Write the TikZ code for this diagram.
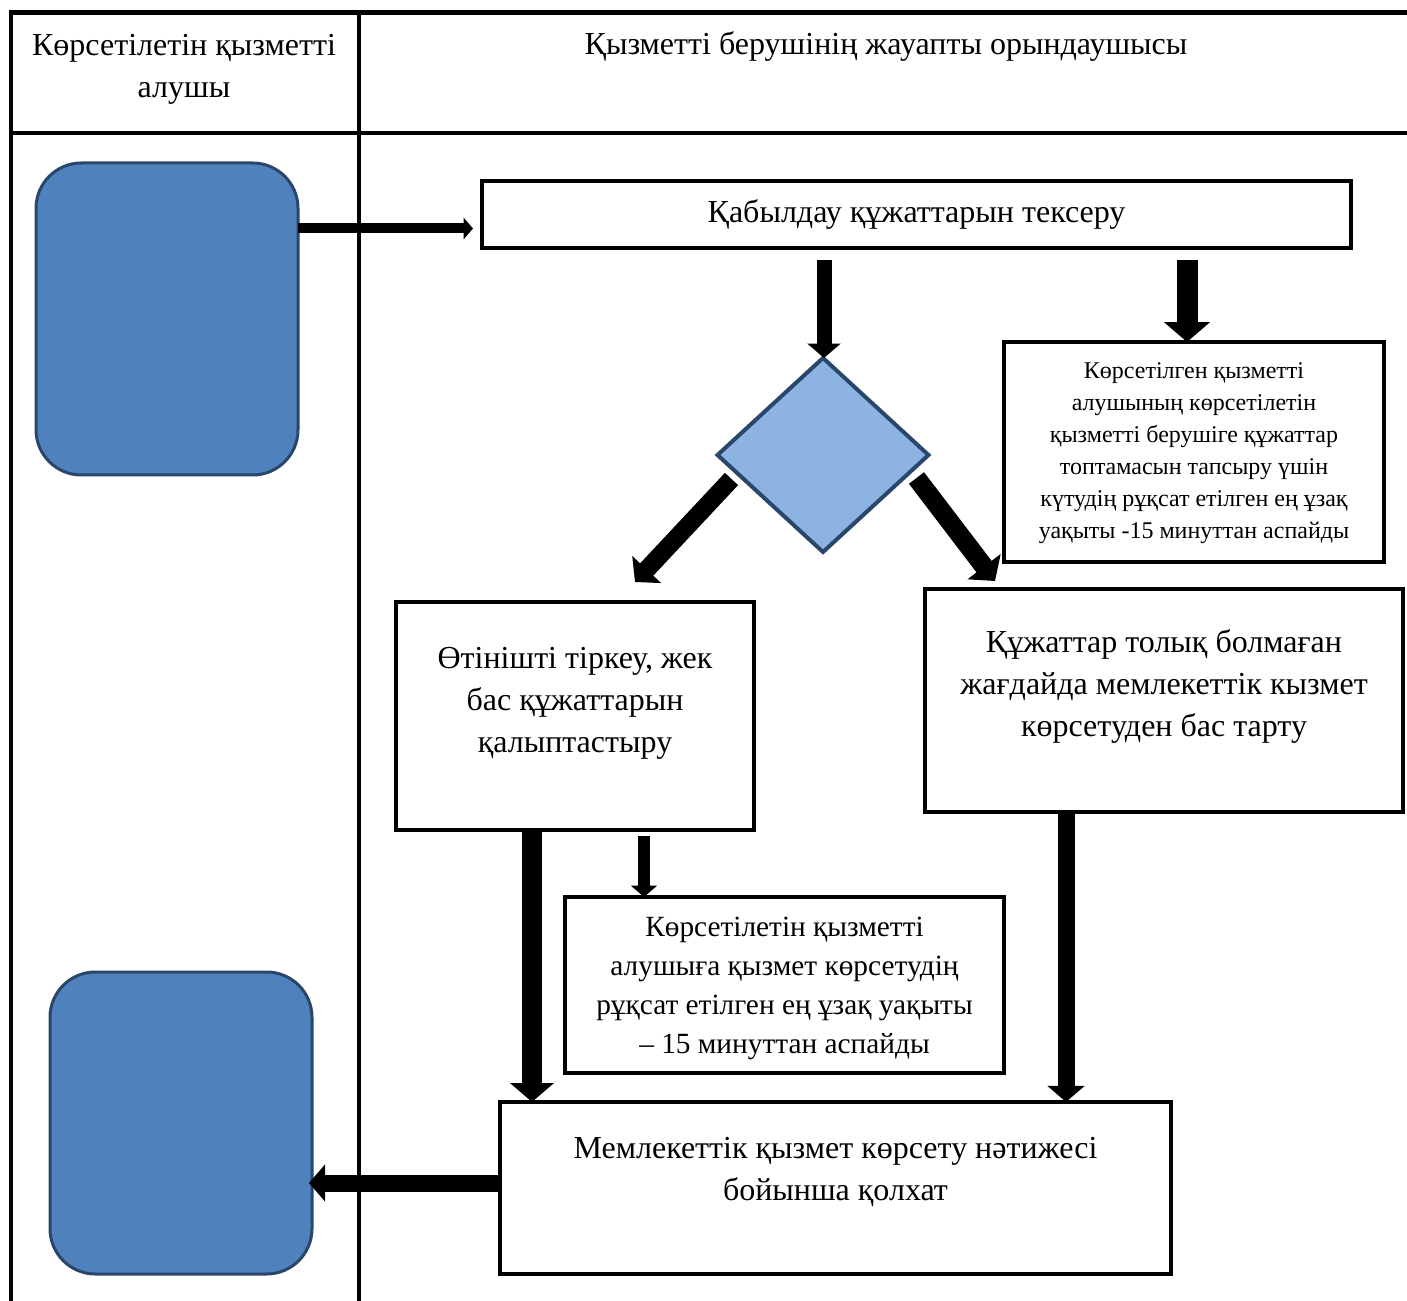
\documentclass[tikz,border=0pt]{standalone}
\usepackage{fontspec}
\setmainfont{Liberation Serif}
\usepackage{xcolor}
\definecolor{fillblue}{HTML}{4F81BD}
\definecolor{lightblue}{HTML}{8DB3E2}
\definecolor{edgeblue}{HTML}{2A466A}
\usetikzlibrary{shapes, arrows.meta, positioning, calc}

\begin{document}
\begin{tikzpicture}[x=0.75pt, y=-0.75pt]
        % Define block styles
        \tikzstyle{box} = [rectangle, draw, line width=2.6pt, inner sep=0pt, outer sep=0pt, font=\fontsize{24}{31.5}\selectfont]
        \tikzstyle{terminal} = [rectangle, draw=edgeblue, fill=fillblue, line width=2.25pt, outer sep=0pt, rounded corners=34pt]
        \tikzstyle{decision} = [diamond, draw=edgeblue, fill=lightblue, line width=3pt, inner sep=0pt, outer sep=0pt]
        \tikzstyle{frame} = [line width=3pt]
        \tikzstyle{line} = [draw, -{Triangle[width=0pt 2.15, length=0pt 0.95]}]

        \useasboundingbox (0,0) rectangle (1407,1301);

        % Lanes
        \draw [frame, line width=3.75pt] (9,12.5) -- (1407,12.5);
        \draw [frame] (9,133) -- (1407,133);
        \draw [frame] (11,10) -- (11,1301);
        \draw [frame] (359,10) -- (359,1301);

        \node [font=\fontsize{24}{31.5}\selectfont] (recipient) at (184,68) {
            \begin{tabular}{@{}c@{}}
                Көрсетілетін қызметті \\
                алушы
            \end{tabular}
        };
        \node [font=\fontsize{24}{31.5}\selectfont] (executor) at (886,47) {Қызметті берушінің жауапты орындаушысы};

        % Nodes
        \node [terminal, minimum width=196.5pt, minimum height=234pt] (applicant) at (167,319) {};
        \node [terminal, minimum width=196.5pt, minimum height=226.5pt] (receipt) at (181,1123) {};

        \node [box, minimum width=651.75pt, minimum height=50.25pt] (check) at (916.5,214.5) {Қабылдау құжаттарын тексеру};
        \node [decision, minimum width=158.25pt, minimum height=145.5pt] (complete) at (823,455) {};

        \node [box, line width=3.4pt, minimum width=285pt, minimum height=165pt, font=\fontsize{18}{24}\selectfont] (waittime) at (1194,452) {
            \begin{tabular}{@{}c@{}}
                Көрсетілген қызметті \\
                алушының көрсетілетін \\
                қызметті берушіге құжаттар \\
                топтамасын тапсыру үшін \\
                күтудің рұқсат етілген ең ұзақ \\
                уақыты -15 минуттан аспайды
            \end{tabular}
        };

        \node [box, minimum width=268.5pt, minimum height=171pt] (register) at (575,716) {
            \begin{tabular}{@{}c@{}}
                Өтінішті тіркеу, жек \\
                бас құжаттарын \\
                қалыптастыру \\[21pt]
            \end{tabular}
        };

        \node [box, line width=3.6pt, minimum width=358.5pt, minimum height=167.25pt] (refuse) at (1164,700.5) {
            \begin{tabular}{@{}c@{}}
                Құжаттар толық болмаған \\
                жағдайда мемлекеттік кызмет \\
                көрсетуден бас тарту \\[22pt]
            \end{tabular}
        };

        \node [box, minimum width=329.25pt, minimum height=132pt, font=\fontsize{22}{29.25}\selectfont] (servetime) at (784.5,985) {
            \begin{tabular}{@{}c@{}}
                Көрсетілетін қызметті \\
                алушыға қызмет көрсетудің \\
                рұқсат етілген ең ұзақ уақыты \\
                – 15 минуттан аспайды \\[-4pt]
            \end{tabular}
        };

        \node [box, minimum width=503.25pt, minimum height=129pt] (result) at (835.5,1188) {
            \begin{tabular}{@{}c@{}}
                Мемлекеттік қызмет көрсету нәтижесі \\
                бойынша қолхат \\[25pt]
            \end{tabular}
        };

        % Paths
        \path [line, line width=7.5pt] ($(applicant.east |- check.west)+(0,14)$) -- ($(check.west)+(-9,14)$);
        \path [line, line width=11.25pt] ($(check.south -| complete.north)+(1,12)$) -- ($(complete.north)+(1,0)$);
        \path [line, line width=15.75pt] ($(check.south -| waittime.north)+(-7,12)$) -- ($(waittime.north)+(-7,0)$);
        \path [line, line width=13.5pt] ($(complete.west)+(14,24)$) -- ($(register.north)+(60,-20)$);
        \path [line, line width=14.25pt] ($(complete.east)+(-12,23)$) -- ($(refuse.north west)+(70,-8)$);
        \path [line, line width=15pt] ($(register.south)+(-43,0)$) -- ($(result.north west)+(32,0)$);
        \path [line, line width=9pt] ($(register.south)+(69,6)$) -- ($(servetime.north west)+(79,0)$);
        \path [line, line width=12.75pt] ($(refuse.south west)+(141,0)$) -- ($(result.north east)+(-105,0)$);
        \path [line, line width=12.75pt] ($(result.west)+(0,-5)$) -- ($(receipt.east |- result.west)+(-3,-5)$);

\end{tikzpicture}
\end{document}
